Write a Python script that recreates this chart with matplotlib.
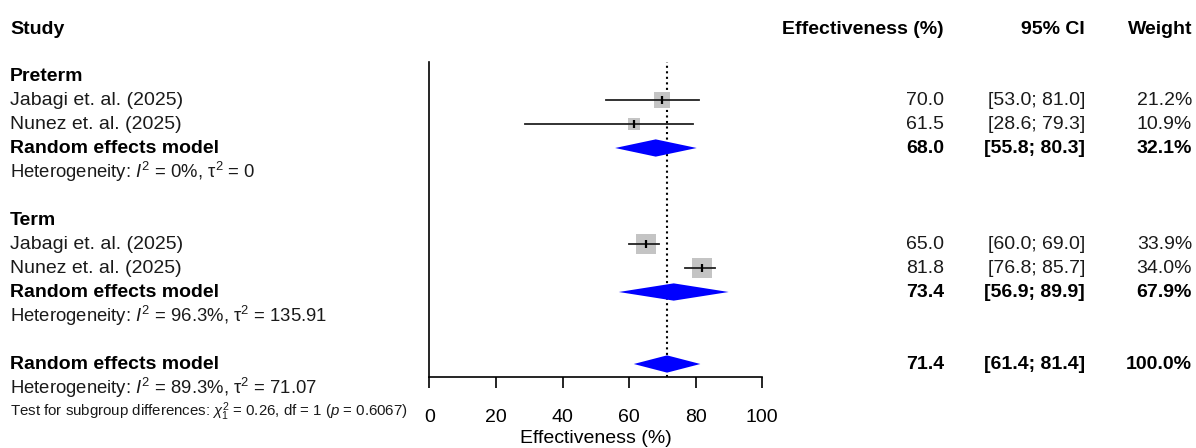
import numpy as np
import matplotlib
matplotlib.use("Agg")
import matplotlib.pyplot as plt
from matplotlib.transforms import blended_transform_factory

plt.rcParams["font.family"] = ["Liberation Sans", "DejaVu Sans"]
plt.rcParams["mathtext.fontset"] = "custom"
plt.rcParams["mathtext.rm"] = "Liberation Sans"
plt.rcParams["mathtext.it"] = "Liberation Sans:italic"
plt.rcParams["mathtext.bf"] = "Liberation Sans:bold"

# ---- data -----------------------------------------------------------------
groups = ["Preterm", "Term"]
study_names = [["Jabagi et. al. (2025)", "Nunez et. al. (2025)"],
               ["Jabagi et. al. (2025)", "Nunez et. al. (2025)"]]
study_est = [[70.0, 61.5], [65.0, 81.8]]
study_lo = [[53.0, 28.6], [60.0, 76.8]]
study_hi = [[81.0, 79.3], [69.0, 85.7]]
study_w = [[21.2, 10.9], [33.9, 34.0]]

sub_est = [68.0, 73.4]
sub_lo = [55.8, 56.9]
sub_hi = [80.3, 89.9]
sub_w = [32.1, 67.9]
sub_i2 = ["0%", "96.3%"]
sub_tau2 = ["0", "135.91"]

all_est, all_lo, all_hi, all_w = 71.4, 61.4, 81.4, 100.0
all_i2, all_tau2 = "89.3%", "71.07"
test_chi2, test_df, test_p = "0.26", "1", "0.6067"

xticks = [0, 20, 40, 60, 80, 100]

# ---- layout ---------------------------------------------------------------
W, H = 1196, 448
FS = 14
fig = plt.figure(figsize=(W / 100, H / 100), dpi=100)
ax = fig.add_axes([429.3 / W, (H - 377) / H, 333 / W, (377 - 62) / H])
ax.set_xlim(0, 100)
ax.set_ylim((377 - 76) / 24, (62 - 76) / 24)

for s in ["top", "right"]:
    ax.spines[s].set_visible(False)
ax.spines["left"].set_linewidth(1.2)
ax.spines["bottom"].set_linewidth(1.2)
ax.set_yticks([])
ax.set_xticks(xticks)
ax.set_xticklabels([str(t) for t in xticks], fontsize=FS)
ax.tick_params(axis="x", length=8, width=1.2, pad=15)
ax.set_xlabel("Effectiveness (%)", fontsize=FS, labelpad=3)

tr = blended_transform_factory(fig.transFigure, ax.transData)
X_STUDY = 10 / W
X_EST = 944 / W
X_CI = 1085 / W
X_W = 1192 / W
TXT = "#1a1a1a"


def row_text(r, label, est, lo, hi, w, bold=False):
    fw = "bold" if bold else "normal"
    col = "black" if bold else TXT
    ax.text(X_STUDY, r, label, transform=tr, ha="left", va="center",
            fontsize=FS, fontweight=fw, color=col)
    ax.text(X_EST, r, f"{est:.1f}", transform=tr, ha="right", va="center",
            fontsize=FS, fontweight=fw, color=col)
    ax.text(X_CI, r, f"[{lo:.1f}; {hi:.1f}]", transform=tr, ha="right",
            va="center", fontsize=FS, fontweight=fw, color=col)
    ax.text(X_W, r, f"{w:.1f}%", transform=tr, ha="right", va="center",
            fontsize=FS, fontweight=fw, color=col)


def diamond(r, est, lo, hi):
    h = 0.36
    ax.fill([lo, est, hi, est], [r, r - h, r, r + h], color="#0000FF",
            lw=0, zorder=3)


# header
hy = -1.95
ax.text(X_STUDY, hy, "Study", transform=tr, ha="left", va="center",
        fontsize=FS, fontweight="bold")
ax.text(X_EST, hy, "Effectiveness (%)", transform=tr, ha="right",
        va="center", fontsize=FS, fontweight="bold")
ax.text(X_CI, hy, "95% CI", transform=tr, ha="right", va="center",
        fontsize=FS, fontweight="bold")
ax.text(X_W, hy, "Weight", transform=tr, ha="right", va="center",
        fontsize=FS, fontweight="bold")

HET_FS = 13.3

r = 0
for g, grp in enumerate(groups):
    ax.text(X_STUDY, r, grp, transform=tr, ha="left", va="center",
            fontsize=FS, fontweight="bold")
    r += 1
    for k in range(len(study_names[g])):
        est, lo, hi, w = study_est[g][k], study_lo[g][k], study_hi[g][k], study_w[g][k]
        side = 20.5 * np.sqrt(w / 34.0) / 1.389
        ax.plot(est, r, marker="s", ms=side, color="#c4c4c4", mew=0, zorder=2)
        ax.plot([lo, hi], [r, r], color="#222222", lw=1.3, zorder=3)
        ax.plot(est, r, marker="|", ms=6, color="black", mew=1.6, zorder=4)
        row_text(r, study_names[g][k], est, lo, hi, w)
        r += 1
    diamond(r, sub_est[g], sub_lo[g], sub_hi[g])
    row_text(r, "Random effects model", sub_est[g], sub_lo[g], sub_hi[g],
             sub_w[g], bold=True)
    r += 1
    ax.text(X_STUDY, r,
            rf"Heterogeneity: $I^2$ = {sub_i2[g]}, τ$^2$ = {sub_tau2[g]}",
            transform=tr, ha="left", va="center", fontsize=HET_FS, color=TXT)
    r += 2

diamond(r, all_est, all_lo, all_hi)
row_text(r, "Random effects model", all_est, all_lo, all_hi, all_w, bold=True)
r += 1
ax.text(X_STUDY, r,
        rf"Heterogeneity: $I^2$ = {all_i2}, τ$^2$ = {all_tau2}",
        transform=tr, ha="left", va="center", fontsize=HET_FS, color=TXT)
r += 1
ax.text(X_STUDY, r,
        rf"Test for subgroup differences: $\chi^2_1$ = {test_chi2}, df = {test_df} ($p$ = {test_p})",
        transform=tr, ha="left", va="center", fontsize=10.8, color=TXT)

ax.axvline(all_est, color="black", ls=":", lw=1.5, zorder=1)

fig.savefig("out.png", dpi=100)
